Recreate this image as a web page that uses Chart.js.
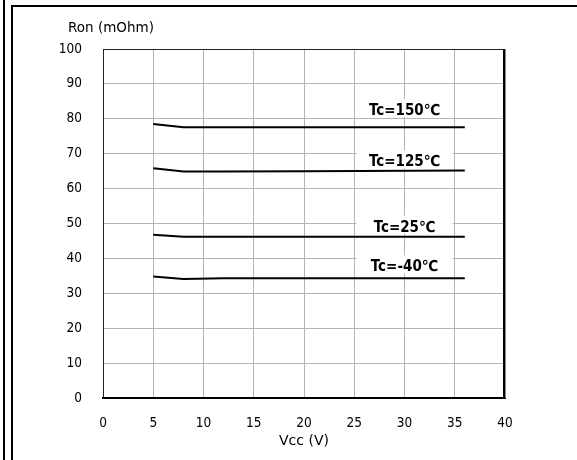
<!DOCTYPE html>
<html lang="en">
  <head>
    <meta charset="utf-8" />
    <title>Ron vs Vcc</title>
    <style>
      body { margin: 0; background: #fff; }
      #wrap { position: relative; width: 577px; height: 460px; overflow: hidden; }
      #outer { position: absolute; left: 3px; top: 0; width: 2px; height: 460px; background: #000; }
      #frame { position: absolute; left: 11px; top: 5px; right: 0; bottom: -10px;
               border-left: 2px solid #000; border-top: 2px solid #000; }
      canvas { position: absolute; left: 0; top: 0; }
    </style>
    <script src="https://cdn.jsdelivr.net/npm/chart.js"></script>
  </head>
  <body>
    <div id="wrap">
      <canvas id="ronChart" width="577" height="460"></canvas>
      <div id="outer"></div>
      <div id="frame"></div>
    </div>

    <script>
      // values
      const vcc = [5, 8, 12, 20, 36];
      const ron150 = [78.5, 77.6, 77.6, 77.6, 77.6];
      const ron125 = [65.8, 64.9, 64.9, 65.0, 65.2];
      const ron25 = [46.8, 46.2, 46.2, 46.2, 46.2];
      const ronM40 = [34.8, 34.1, 34.3, 34.3, 34.3];

      const curveNames = ['Tc=150℃', 'Tc=125℃', 'Tc=25℃', 'Tc=-40℃'];
      const curveLabelX = [30, 30, 30, 30];
      const curveLabelY = [82.3, 67.5, 48.8, 37.4];

      const yTitle = 'Ron (mOhm)';
      const xTitle = 'Vcc (V)';

      const SANS = "'DejaVu Sans', sans-serif";
      const COND = "'DejaVu Sans Condensed', 'DejaVu Sans', sans-serif";

      function toPoints(ys) {
        return vcc.map((x, i) => ({ x: x, y: ys[i] }));
      }

      const series = [ron150, ron125, ron25, ronM40].map((ys, i) => ({
        label: curveNames[i],
        data: toPoints(ys),
        borderColor: '#000',
        borderWidth: 2,
        pointRadius: 0,
        tension: 0,
        fill: false
      }));

      // white-boxed curve names, over the grid but under the curves
      const curveLabels = {
        id: 'curveLabels',
        beforeDatasetsDraw(chart) {
          const ctx = chart.ctx;
          const xs = chart.scales.x, ys = chart.scales.y;
          ctx.save();
          ctx.font = 'bold 15px ' + COND;
          ctx.textAlign = 'center';
          ctx.textBaseline = 'middle';
          curveNames.forEach((name, i) => {
            const px = xs.getPixelForValue(curveLabelX[i]);
            const py = ys.getPixelForValue(curveLabelY[i]);
            ctx.fillStyle = '#fff';
            ctx.fillRect(px - 48, py - 12, 96, 18);
            ctx.fillStyle = '#000';
            ctx.fillText(name, px, py);
          });
          ctx.restore();
        }
      };

      // top and right edges of the plot box, plus the unit label above the y axis
      const plotEdges = {
        id: 'plotEdges',
        afterDraw(chart) {
          const a = chart.chartArea;
          const ctx = chart.ctx;
          ctx.save();
          ctx.strokeStyle = '#222';
          ctx.lineWidth = 1;
          ctx.beginPath();
          ctx.moveTo(a.left, a.top + 0.5);
          ctx.lineTo(a.right, a.top + 0.5);
          ctx.stroke();
          ctx.strokeStyle = '#888';
          ctx.beginPath();
          ctx.moveTo(a.right + 0.5, a.top);
          ctx.lineTo(a.right + 0.5, a.bottom);
          ctx.stroke();
          ctx.strokeStyle = '#000';
          ctx.lineWidth = 2;
          ctx.beginPath();
          ctx.moveTo(a.right - 1, a.top);
          ctx.lineTo(a.right - 1, a.bottom);
          ctx.stroke();

          ctx.fillStyle = '#000';
          ctx.font = '13.5px ' + SANS;
          ctx.textAlign = 'left';
          ctx.textBaseline = 'middle';
          ctx.fillText(yTitle, a.left - 35, a.top - 21);
          ctx.restore();
        }
      };

      const ctx = document.getElementById('ronChart').getContext('2d');
      new Chart(ctx, {
        type: 'line',
        data: { datasets: series },
        plugins: [curveLabels, plotEdges],
        options: {
          responsive: false,
          animation: false,
          layout: { padding: { left: 20, right: 72, top: 49, bottom: 0 } },
          plugins: {
            legend: { display: false },
            tooltip: { enabled: false }
          },
          scales: {
            x: {
              type: 'linear',
              min: 0,
              max: 40,
              afterFit(s) { s.height = 62; },
              ticks: { stepSize: 5, padding: 17, color: '#000', font: { family: COND, size: 13.5 } },
              grid: { color: '#b4b4b4', lineWidth: 1, drawTicks: false },
              border: { color: '#000', width: 2 },
              title: {
                display: true,
                text: xTitle,
                color: '#000',
                font: { family: SANS, size: 14 },
                padding: { top: 0, bottom: 10 }
              }
            },
            y: {
              min: 0,
              max: 100,
              afterFit(s) { s.width = 83; },
              ticks: { stepSize: 10, padding: 21, color: '#000', font: { family: COND, size: 13.5 } },
              grid: { color: '#b4b4b4', lineWidth: 1, drawTicks: false },
              border: { color: '#222', width: 1 }
            }
          }
        }
      });
    </script>
  </body>
</html>
